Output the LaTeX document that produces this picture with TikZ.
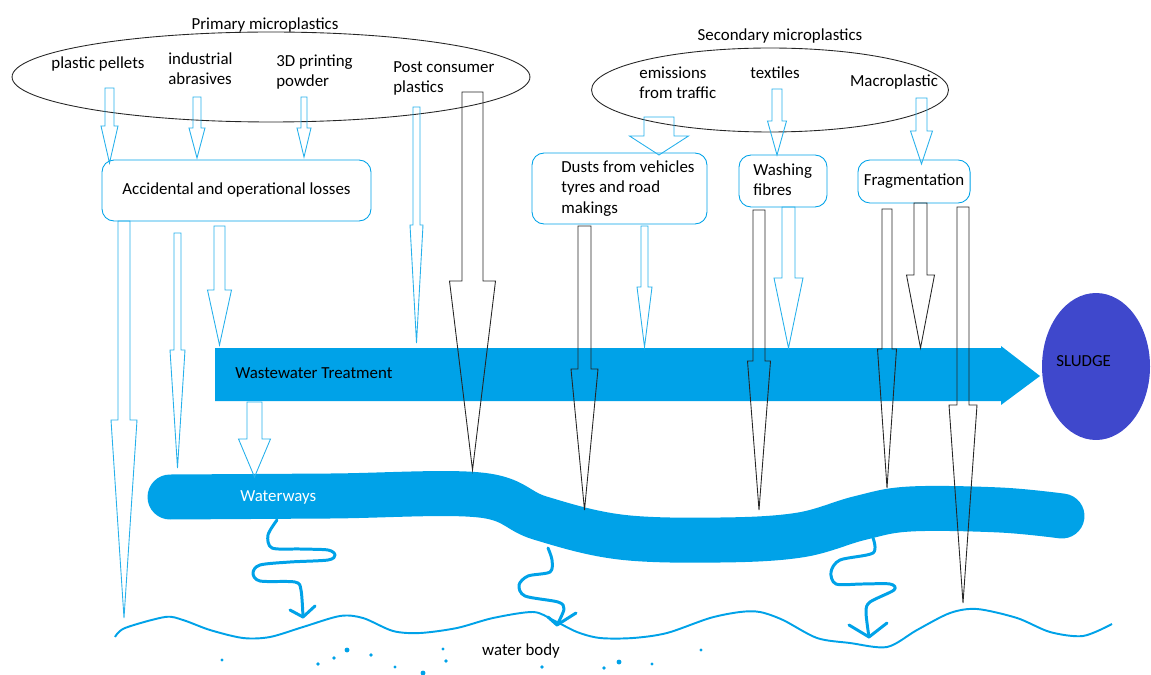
\documentclass[tikz,border=0pt]{standalone}
\usepackage{fontspec}
\setmainfont{Carlito}
\usepackage{tikz}
\usetikzlibrary{shapes.geometric}

\definecolor{paintblue}{HTML}{00A2E8}
\definecolor{sludgeblue}{HTML}{3F48CC}

\begin{document}
\begin{tikzpicture}[x=0.02cm,y=-0.02cm,
  every node/.style={font=\fontsize{9.6}{11.6}\selectfont},
  txt/.style={inner sep=0pt},
  source/.style={draw=black!85,ellipse,line width=0.5pt},
  box/.style={draw=paintblue,rounded corners=0.24cm,line width=0.5pt},
  bluearrow/.style={draw=paintblue!85,line width=0.5pt},
  blackarrow/.style={draw=black!85,line width=0.5pt}]

\useasboundingbox (0,0) rectangle (1151,675);

% Block arrow: style, x, top, shaft half width, head y, head half width, tip y
\def\blockarrow#1#2#3#4#5#6#7{%
  \draw[#1] ({#2-#4},#3) -- ({#2+#4},#3) -- ({#2+#4},#5) -- ({#2+#6},#5)
    -- (#2,#7) -- ({#2-#6},#5) -- ({#2-#4},#5) -- cycle;}

% Sources
\node[source,minimum width=10.36cm,minimum height=1.8cm] (primary) at (271,77) {};
\node[source,minimum width=7.14cm,minimum height=1.68cm] (secondary) at (770,90) {};
\node[txt] (primLbl) at (265,25) {Primary microplastics};
\node[txt] (secLbl) at (780,36) {Secondary microplastics};
\node[txt] (pellets) at (98,64) {plastic pellets};
\node[txt,anchor=west,align=left] (abrasives) at (168,69) {industrial\\abrasives};
\node[txt,anchor=west,align=left] (printing) at (276,72) {3D printing\\powder};
\node[txt,anchor=west,align=left] (postcons) at (393,78.5) {Post consumer\\plastics};
\node[txt,anchor=west,align=left] (traffic) at (639,83) {emissions\\from traffic};
\node[txt] (textiles) at (775,73) {textiles};
\node[txt] (macro) at (894,82) {Macroplastic};

% Pathways
\node[box,minimum width=5.38cm,minimum height=1.22cm] (losses) at (236.5,190.5) {Accidental and operational losses};
\node[box,minimum width=3.5cm,minimum height=1.42cm] (dusts) at (619.5,188.5) {};
\node[txt,anchor=west,align=left] (dustsLbl) at (561,188.5) {Dusts from vehicles\\tyres and road\\makings};
\node[box,minimum width=1.76cm,minimum height=1.04cm] (washing) at (783,181) {};
\node[txt,anchor=west,align=left] (washLbl) at (753,179.5) {Washing\\fibres};
\node[box,minimum width=2.24cm,minimum height=0.86cm] (frag) at (914,181.5) {Fragmentation};

% Wastewater treatment and sludge
\fill[paintblue] (215,348) -- (1001,348) -- (1001,346) -- (1040,376)
  -- (1001,405) -- (1001,401) -- (215,401) -- cycle;
\node[txt,anchor=west] (wwt) at (235,373) {Wastewater Treatment};
\node[ellipse,fill=sludgeblue,minimum width=2.16cm,minimum height=2.94cm] (sludge) at (1096,366.5) {};
\node[txt,anchor=west] (sludgeLbl) at (1056,361) {SLUDGE};

% Waterways
\draw[paintblue,line width=0.9cm,line cap=round,line join=round]
  plot[smooth,tension=0.6] coordinates {(170,497) (330,496) (480,495) (540,518)
  (620,537) (720,540) (800,535) (860,518) (910,509) (1000,510) (1062,516)};
\node[txt,white,anchor=west] (ww) at (240,497) {Waterways};

% Arrows from sources
\blockarrow{bluearrow}{109.5}{88}{4.5}{126}{8.5}{163}
\blockarrow{bluearrow}{197}{97}{4}{128}{8}{158}
\blockarrow{bluearrow}{304}{97}{3}{128}{7}{157}
\blockarrow{bluearrow}{416.5}{107}{3.5}{225}{6.5}{343}
\blockarrow{blackarrow}{472.5}{92}{10.5}{281}{23}{470}
\blockarrow{bluearrow}{659}{117}{15}{136}{29.5}{155}
\blockarrow{bluearrow}{777}{89}{5}{121}{9.5}{155}
\blockarrow{bluearrow}{921.5}{98}{5.5}{131}{11}{164}

% Arrows from pathways
\blockarrow{bluearrow}{124}{221}{6}{420}{13}{618}
\blockarrow{bluearrow}{177.5}{233}{3.5}{350}{7.5}{468}
\blockarrow{bluearrow}{219.5}{226}{5.5}{290}{12}{345}
\blockarrow{blackarrow}{584.5}{226}{6.5}{369}{13.5}{510}
\blockarrow{bluearrow}{644.5}{226}{3.5}{287}{7.5}{347}
\blockarrow{blackarrow}{759}{210}{6}{361}{11.5}{510}
\blockarrow{bluearrow}{788.5}{207}{6.5}{278}{14.5}{348}
\blockarrow{blackarrow}{887}{209}{5}{349}{9.5}{488}
\blockarrow{blackarrow}{920.5}{203}{6.5}{275}{14}{348}
\blockarrow{blackarrow}{963}{207}{6}{405}{14}{603}
\blockarrow{bluearrow}{254.5}{402}{7.5}{439}{16}{477}

% Meanders into the water body
\begin{scope}[paintblue,line width=1.7pt,line cap=round,line join=round]
\draw plot[smooth,tension=0.5] coordinates {(277,520) (268,535) (272,548) (300,549)
  (328,550) (335,555) (328,560) (290,562) (260,565) (253,573) (260,581) (295,582)
  (301,590) (303,617)};
\draw (290,610) -- (303,617) -- (315,606);
\draw plot[smooth,tension=0.5] coordinates {(548,548) (552,560) (550,572) (528,576)
  (519,585) (525,596) (558,602) (564,609) (557,625)};
\draw (548,617) -- (557,625) -- (576,613);
\draw plot[smooth,tension=0.5] coordinates {(873,538) (873,553) (840,560) (831,572)
  (836,584) (862,584) (890,584) (894,590) (870,602) (866,612) (869,637)};
\draw (849,625) -- (869,637) -- (887,623);
\end{scope}

% Water body
\draw[paintblue,line width=1.1pt] plot[smooth,tension=0.5] coordinates {
  (115,637) (125,628) (165,617) (183,620) (210,630) (243,638) (270,637) (303,627)
  (340,616) (363,618) (393,631) (420,633) (457,628) (493,618) (533,612) (553,620)
  (577,632) (600,638) (633,638) (667,633) (710,618) (740,612) (760,612) (783,620)
  (817,638) (850,643) (887,647) (917,630) (950,613) (977,609) (1017,618) (1050,632)
  (1083,636) (1112,624)};
\node[txt] (body) at (521,651) {water body};
\foreach \x/\y/\r in {222/660/0.9,318/664/1.1,334/658/1.1,347/650/1.4,371/655/1.1,
  395/667/0.9,423/673/1.4,443/649/0.9,446/661/1.1,542/667/1.1,604/668/1.1,
  619/662/1.4,652/664/0.9,701/650/0.9}
  \fill[paintblue] (\x,\y) circle (\r pt);

\end{tikzpicture}
\end{document}
